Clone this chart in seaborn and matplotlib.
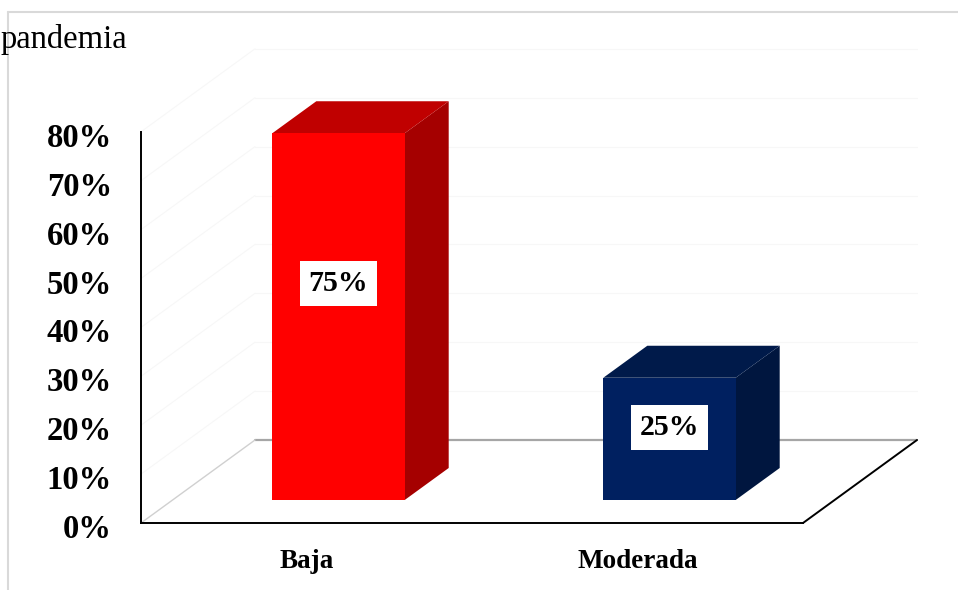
import matplotlib
matplotlib.use("Agg")
import matplotlib.pyplot as plt
import seaborn as sns
import pandas as pd
from matplotlib.patches import Polygon
from matplotlib.lines import Line2D
from matplotlib.transforms import ScaledTranslation

# ---- data ----
categories = ["Baja", "Moderada"]
values = [0.75, 0.25]
value_labels = ["75%", "25%"]
yticks = [0.0, 0.1, 0.2, 0.3, 0.4, 0.5, 0.6, 0.7, 0.8]
ytick_labels = ["0%", "10%", "20%", "30%", "40%", "50%", "60%", "70%", "80%"]
title_text = "pandemia"

front_colors = ["#FF0000", "#002060"]
top_colors = ["#C00000", "#001A4A"]
side_colors = ["#A50000", "#00163F"]

sns.set_theme(style="white")
plt.rcParams["font.family"] = ["Liberation Serif", "DejaVu Serif"]

W, H, DPI = 958, 590, 100
fig = plt.figure(figsize=(W / DPI, H / DPI), dpi=DPI)

# front plane axes (pixel layout)
left_px, right_px, bottom_px = 141, 803, 523
ppu = 489  # pixels per 100%
ax = fig.add_axes([left_px / W, (H - bottom_px) / H,
                   (right_px - left_px) / W, 0.8 * ppu / H])

df = pd.DataFrame({"cat": categories, "val": values})
sns.barplot(data=df, x="cat", y="val", hue="cat", palette=front_colors,
            width=0.4, legend=False, ax=ax, linewidth=0, saturation=1)
ax.set_xlim(-0.5, 1.5)
ax.set_ylim(0, 0.8)
ax.set_xlabel("")
ax.set_ylabel("")
ax.set_facecolor("none")

# 3D offsets in pixels (x right, y up)
F = (32, 23)    # bar front-plane shift
D = (44, 32)    # bar depth
B = (114, 83)   # floor depth

inv = fig.transFigure.inverted()


def proj(x, y, off):
    X, Y = ax.transData.transform((x, y))
    return inv.transform((X + off[0] * fig.dpi / DPI, Y + off[1] * fig.dpi / DPI))


def poly(pts, **kw):
    p = Polygon(pts, closed=True, transform=fig.transFigure, clip_on=False, **kw)
    ax.add_patch(p)
    return p


def line(p0, p1, **kw):
    l = Line2D([p0[0], p1[0]], [p0[1], p1[1]], transform=fig.transFigure,
               clip_on=False, **kw)
    ax.add_line(l)


x_lo, x_hi = ax.get_xlim()
# very faint back wall / side wall gridlines
for t in yticks[1:]:
    line(proj(x_lo, t, B), proj(x_hi, t, B), color="#f7f7f7", lw=0.8, zorder=0.5)
    line(proj(x_lo, t, (0, 0)), proj(x_lo, t, B), color="#f7f7f7", lw=0.8, zorder=0.5)

# floor edges
line(proj(x_lo, 0, B), proj(x_hi, 0, B), color="#a6a6a6", lw=1.6, zorder=0.6)
line(proj(x_lo, 0, (0, 0)), proj(x_lo, 0, B), color="#d0d0d0", lw=1.0, zorder=0.6)
line(proj(x_hi, 0, (0, 0)), proj(x_hi, 0, B), color="black", lw=1.4, zorder=0.6)

# 3D bars
shift = ScaledTranslation(F[0] / DPI, F[1] / DPI, fig.dpi_scale_trans)
FD = (F[0] + D[0], F[1] + D[1])
for i, p in enumerate(ax.patches[:len(values)]):
    x0 = p.get_x()
    x1 = x0 + p.get_width()
    h = p.get_height()
    p.set_transform(ax.transData + shift)
    p.set_clip_on(False)
    p.set_zorder(3)
    poly([proj(x1, 0, F), proj(x1, 0, FD), proj(x1, h, FD), proj(x1, h, F)],
         facecolor=side_colors[i], edgecolor="none", zorder=2)
    poly([proj(x0, h, F), proj(x1, h, F), proj(x1, h, FD), proj(x0, h, FD)],
         facecolor=top_colors[i], edgecolor="none", zorder=2)
    ax.text(x0 + p.get_width() / 2, h * 0.59, value_labels[i],
            transform=ax.transData + shift, ha="center", va="center",
            fontsize=21.5, fontweight="bold", color="black", zorder=5,
            bbox=dict(boxstyle="square,pad=0.3", facecolor="white", edgecolor="none"))

# axes styling
for s in ["top", "right"]:
    ax.spines[s].set_visible(False)
for s in ["left", "bottom"]:
    ax.spines[s].set_color("black")
    ax.spines[s].set_linewidth(1.4)
ax.set_yticks(yticks)
ax.set_yticklabels(ytick_labels)
ax.tick_params(axis="y", length=0, pad=21, labelsize=23.5)
ax.tick_params(axis="x", length=0, pad=19, labelsize=19.5)
down = ScaledTranslation(0, -3 / DPI, fig.dpi_scale_trans)
for lab in ax.get_yticklabels():
    lab.set_transform(lab.get_transform() + down)
for lab in ax.get_yticklabels() + ax.get_xticklabels():
    lab.set_fontweight("bold")
    lab.set_color("black")

# title fragment and chart-area border
fig.text(1 / W, 1 - 48 / H, title_text, ha="left", va="baseline",
         fontsize=23.5, color="black")
fig.add_artist(Line2D([8 / W, 1], [1 - 12 / H, 1 - 12 / H], transform=fig.transFigure,
                      color="#d9d9d9", lw=1.5))
fig.add_artist(Line2D([8 / W, 8 / W], [0, 1 - 12 / H], transform=fig.transFigure,
                      color="#d9d9d9", lw=1.5))

fig.savefig("out.png", dpi=DPI, facecolor="white")
